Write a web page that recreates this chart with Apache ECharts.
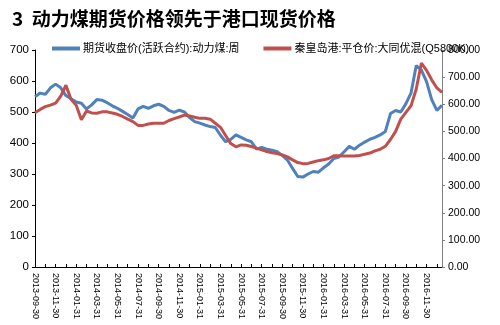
<!DOCTYPE html>
<html>
<head>
<meta charset="utf-8">
<script src="https://cdn.jsdelivr.net/npm/echarts@6/dist/echarts.min.js"></script>
<style>
	html, body { margin: 0; padding: 0; background: #fff; }
	#main { width: 500px; height: 325px; }
</style>
</head>
<body>
<div id="main"></div>
<script>
	// semi-monthly sample dates (mid month / month end)
	const dates = [
		'2013-09-30','2013-10-15','2013-10-31','2013-11-15','2013-11-30','2013-12-15','2013-12-31',
		'2014-01-15','2014-01-31','2014-02-15','2014-02-28','2014-03-15','2014-03-31','2014-04-15','2014-04-30',
		'2014-05-15','2014-05-31','2014-06-15','2014-06-30','2014-07-15','2014-07-31','2014-08-15','2014-08-31',
		'2014-09-15','2014-09-30','2014-10-15','2014-10-31','2014-11-15','2014-11-30','2014-12-15','2014-12-31',
		'2015-01-15','2015-01-31','2015-02-15','2015-02-28','2015-03-15','2015-03-31','2015-04-15','2015-04-30',
		'2015-05-15','2015-05-31','2015-06-15','2015-06-30','2015-07-15','2015-07-31','2015-08-15','2015-08-31',
		'2015-09-15','2015-09-30','2015-10-15','2015-10-31','2015-11-15','2015-11-30','2015-12-15','2015-12-31',
		'2016-01-15','2016-01-31','2016-02-15','2016-02-29','2016-03-15','2016-03-31','2016-04-15','2016-04-30',
		'2016-05-15','2016-05-31','2016-06-15','2016-06-30','2016-07-15','2016-07-31','2016-08-15','2016-08-31',
		'2016-09-15','2016-09-30','2016-10-15','2016-10-31','2016-11-15','2016-11-30','2016-12-15','2016-12-31',
		'2017-01-15'
	];

	// tick labels shown on the x axis
	const tickLabels = [
		'2013-09-30','2013-11-30','2014-01-31','2014-03-31','2014-05-31','2014-07-31','2014-09-30',
		'2014-11-30','2015-01-31','2015-03-31','2015-05-31','2015-07-31','2015-09-30','2015-11-30',
		'2016-01-31','2016-03-31','2016-05-31','2016-07-31','2016-09-30','2016-11-30'
	];

	// 期货收盘价(活跃合约):动力煤:周  (left axis)
	const futures = [
		549, 561, 557, 578, 590, 578, 553, 543, 532, 528,
		510, 523, 540, 538, 530, 520, 512, 502, 492, 481,
		510, 518, 512, 520, 525, 518, 505, 499, 506, 500,
		482, 469, 464, 458, 453, 450, 425, 404, 412, 426,
		418, 410, 404, 380, 386, 380, 377, 372, 360, 345,
		318, 292, 290, 300, 308, 306, 320, 332, 350, 355,
		372, 389, 380, 393, 403, 412, 418, 426, 437, 495,
		505, 500, 527, 562, 650, 635, 598, 540, 505, 522
	];

	// 秦皇岛港:平仓价:大同优混(Q5800K)  (right axis)
	const spot = [
		569, 581, 591, 597, 604, 630, 670, 618, 596, 543,
		575, 568, 567, 572, 572, 568, 563, 555, 545, 536,
		522, 522, 527, 530, 530, 530, 540, 547, 553, 560,
		557, 552, 548, 548, 545, 530, 515, 485, 455, 443,
		450, 449, 444, 438, 432, 426, 421, 418, 413, 406,
		395, 385, 381, 382, 387, 392, 395, 400, 410, 410,
		409, 409, 409, 411, 416, 420, 428, 434, 445, 470,
		500, 545, 570, 595, 656, 752, 725, 690, 660, 644
	];

	const names = ['期货收盘价(活跃合约):动力煤:周', '秦皇岛港:平仓价:大同优混(Q5800K)'];

	const chart = echarts.init(document.getElementById('main'));

	const option = {
		animation: false,
		color: ['#4f81bd', '#c0504d'],
		title: {
			text: '3  动力煤期货价格领先于港口现货价格',
			left: 7,
			top: 4,
			textStyle: {
				fontFamily: 'Noto Sans CJK SC',
				fontSize: 19,
				fontWeight: 'bold',
				color: '#000'
			}
		},
		legend: {
			data: names,
			left: 47,
			top: 38,
			itemGap: 24,
			itemWidth: 28,
			itemHeight: 4,
			icon: 'rect',
			textStyle: {
				fontFamily: 'Liberation Sans, Noto Sans CJK SC',
				fontSize: 11,
				color: '#000',
				padding: [0, 0, 0, -2]
			}
		},
		grid: {
			left: 35,
			right: 58,
			top: 50,
			bottom: 58,
			containLabel: false
		},
		xAxis: {
			type: 'category',
			data: dates,
			boundaryGap: false,
			axisLine: { lineStyle: { color: '#000', width: 1 } },
			axisTick: {
				inside: true,
				length: 3,
				interval: (idx) => idx % 2 === 0,
				lineStyle: { color: '#000' }
			},
			axisLabel: {
				rotate: -90,
				margin: 6,
				interval: (idx, val) => tickLabels.indexOf(val) >= 0,
				fontFamily: 'Liberation Sans',
				fontSize: 9,
				color: '#000'
			},
			splitLine: { show: false }
		},
		yAxis: [
			{
				type: 'value',
				min: 0,
				max: 700,
				interval: 100,
				axisLine: { show: true, lineStyle: { color: '#000' } },
				axisTick: { show: true, length: 3, lineStyle: { color: '#000' } },
				axisLabel: {
					margin: 6,
					fontFamily: 'Liberation Sans',
					fontSize: 11.5,
					color: '#000'
				},
				splitLine: { show: false }
			},
			{
				type: 'value',
				min: 0,
				max: 800,
				interval: 100,
				position: 'right',
				axisLine: { show: true, lineStyle: { color: '#808080' } },
				axisTick: { show: true, length: 3, lineStyle: { color: '#808080' } },
				axisLabel: {
					margin: 6,
					fontFamily: 'Liberation Sans',
					fontSize: 10.5,
					color: '#000',
					formatter: (v) => v.toFixed(2)
				},
				splitLine: { show: false }
			}
		],
		series: [
			{
				name: names[0],
				type: 'line',
				yAxisIndex: 0,
				data: futures,
				symbol: 'none',
				lineStyle: { width: 3 }
			},
			{
				name: names[1],
				type: 'line',
				yAxisIndex: 1,
				data: spot,
				symbol: 'none',
				lineStyle: { width: 3 }
			}
		]
	};

	chart.setOption(option);
</script>
</body>
</html>
